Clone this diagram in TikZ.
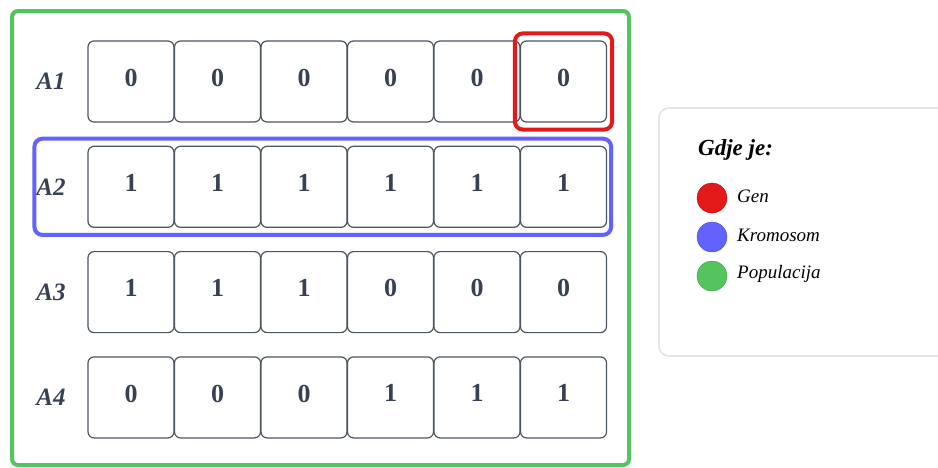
\documentclass[tikz,border=0pt]{standalone}
\usepackage{fontspec}
\setmainfont{Liberation Serif}
\usetikzlibrary{positioning, calc, fit}
\definecolor{ink}{HTML}{374151}
\definecolor{edge}{HTML}{4B5563}
\definecolor{gen}{HTML}{E41A1A}
\definecolor{krom}{HTML}{6262FF}
\definecolor{pop}{HTML}{54C45E}
\definecolor{soft}{HTML}{E3E5E8}

\begin{document}
\begin{tikzpicture}[x=1pt, y=-1pt,
  cell/.style={draw=edge, line width=1.2pt, rounded corners=6pt, fill=white,
    minimum width=86pt, minimum height=81pt, inner sep=0pt, text depth=8pt,
    text=ink, font=\fontsize{26}{30}\selectfont\bfseries},
  rowlab/.style={text=ink, font=\fontsize{25}{30}\selectfont\bfseries\itshape},
  gene/.style={draw=gen, line width=4pt, rounded corners=8pt},
  chrom/.style={draw=krom, line width=4pt, rounded corners=8pt},
  popul/.style={draw=pop, line width=4pt, rounded corners=6pt},
  dot/.style={circle, minimum size=30pt, inner sep=0pt, draw=#1!80!black, line width=0.4pt, fill=#1},
  item/.style={right, inner sep=0pt, font=\fontsize{19}{23}\selectfont\itshape}
]
  \useasboundingbox (0,0) rectangle (938,467);

  % population frame
  \draw[popul] (12,11) rectangle (629,465);

  % chromosomes
  \foreach \r/\bits in {1/{0,0,0,0,0,0}, 2/{1,1,1,1,1,1}, 3/{1,1,1,0,0,0}, 4/{0,0,0,1,1,1}} {
    \node[rowlab] (lab\r) at (51, 81.5+105.3*\r-105.3) {A\r};
    \foreach \b [count=\c] in \bits
      \node[cell] (c\r\c) at (131+86.5*\c-86.5, 81.5+105.3*\r-105.3) {\b};
  }

  % highlights
  \node[gene, fit=(c16), inner xsep=5pt, inner ysep=7pt] (g) {};
  \draw[chrom] ($(c21.north west)+(-53,-7)$) rectangle ($(c26.south east)+(4,7)$);

  % legend
  \draw[soft, line width=1.8pt, rounded corners=10pt] (659,108) rectangle (960,356);
  \node[right, inner sep=0pt, font=\fontsize{23}{27}\selectfont\bfseries\itshape] (title) at (698,150) {Gdje je:};
  \node[dot=gen] (dg) at (712,198) {};
  \node[dot=krom] (dk) at (712,237) {};
  \node[dot=pop] (dp) at (712,276) {};
  \node[item] (tg) at (737,196) {Gen};
  \node[item] (tk) at (737,235) {Kromosom};
  \node[item] (tp) at (737,274) {Populacija};
\end{tikzpicture}
\end{document}
